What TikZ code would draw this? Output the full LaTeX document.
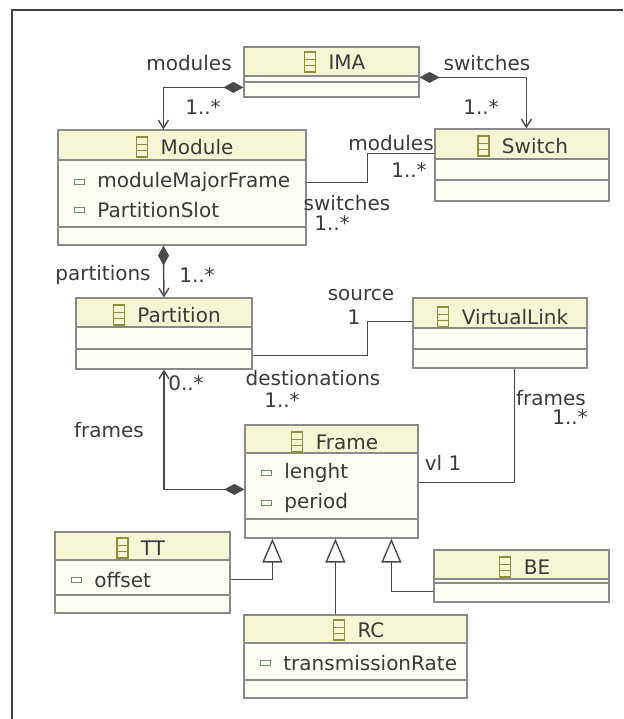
\documentclass[tikz,border=0pt]{standalone}
\usepackage{fontspec}
\setmainfont{DejaVu Sans}
\usetikzlibrary{arrows.meta, positioning, fit, calc, shadows}

\definecolor{boxline}{HTML}{8A8A8A}
\definecolor{headfill}{HTML}{F6F6D4}
\definecolor{bodyfill}{HTML}{FDFDF4}
\definecolor{iconline}{HTML}{8E8E40}
\definecolor{attrline}{HTML}{6F8F5F}
\definecolor{wire}{HTML}{4A4A4A}
\definecolor{txt}{HTML}{3A3A3A}

\tikzset{
  classbox/.style 2 args={draw=boxline, fill=bodyfill, line width=0.6pt, inner sep=0pt,
    drop shadow={shadow xshift=0.7pt, shadow yshift=-0.7pt, fill=black!30, opacity=0.6},
    path picture={
      \fill[headfill] (path picture bounding box.north west) rectangle ([yshift=-#1*0.5pt]path picture bounding box.north east);
      \draw[boxline, line width=0.6pt] ([yshift=-#1*0.5pt]path picture bounding box.north west) -- ([yshift=-#1*0.5pt]path picture bounding box.north east);
      \draw[boxline, line width=0.6pt] ([yshift=-#2*0.5pt]path picture bounding box.north west) -- ([yshift=-#2*0.5pt]path picture bounding box.north east);
    }},
  classicon/.style={draw=iconline, fill=headfill, line width=0.6pt, minimum width=5.5pt, minimum height=10pt, inner sep=0pt,
    path picture={
      \draw[iconline, line width=0.5pt] ($(path picture bounding box.north west)!0.35!(path picture bounding box.south west)$) -- ($(path picture bounding box.north east)!0.35!(path picture bounding box.south east)$);
      \draw[iconline, line width=0.5pt] ($(path picture bounding box.north west)!0.65!(path picture bounding box.south west)$) -- ($(path picture bounding box.north east)!0.65!(path picture bounding box.south east)$);
    }},
  attricon/.style={draw=attrline, fill=white, line width=0.6pt, minimum width=5pt, minimum height=2.8pt, inner sep=0pt},
  cname/.style={font=\fontsize{10}{12}\selectfont, text=txt, inner sep=0pt},
  attr/.style={font=\fontsize{10}{12}\selectfont, text=txt, inner sep=0pt, anchor=west},
  lbl/.style={font=\fontsize{10}{12}\selectfont, text=txt, inner sep=0pt},
  assoc/.style={draw=wire, line width=0.7pt},
  comp/.style={assoc, {Diamond[length=10pt, width=5.5pt]}-{Straight Barb[length=4pt, width=5pt]}},
  navig/.style={assoc, -{Straight Barb[length=4pt, width=5pt]}},
  inherit/.style={assoc, -{Triangle[open, length=12pt, width=10pt, fill=white]}}
}

\begin{document}
\begin{tikzpicture}[x=0.5pt, y=-0.5pt]
    \useasboundingbox (0,0) rectangle (623,719);
    % Frame border
    \draw[line width=1pt, black!75] (12,719) -- (12,10) -- (623,10);

    % Classes
    \node[classbox={29}{35}, fit={(244,47) (419,97)}] (ima) {};
    \node[classbox={30}{97}, fit={(58,130) (306,245)}] (module) {};
    \node[classbox={30}{51}, fit={(435,129) (609,201)}] (switch) {};
    \node[classbox={29}{51}, fit={(76,298) (252,369)}] (partition) {};
    \node[classbox={30}{51}, fit={(413,298) (587,368)}] (vl) {};
    \node[classbox={28}{94}, fit={(245,425) (418,538)}] (frame) {};
    \node[classbox={28}{63}, fit={(55,532) (230,613)}] (tt) {};
    \node[classbox={29}{33}, fit={(434,550) (609,602)}] (be) {};
    \node[classbox={28}{65}, fit={(244,615) (467,698)}] (rc) {};

    % Class names
    \node[cname] (imaname) at (347,62) {IMA};
    \node[cname] (modulename) at (197,147) {Module};
    \node[cname] (switchname) at (535,146) {Switch};
    \node[cname] (partitionname) at (179,315) {Partition};
    \node[cname] (vlname) at (515,317) {VirtualLink};
    \node[cname] (framename) at (347,442) {Frame};
    \node[cname] (ttname) at (153,548) {TT};
    \node[cname] (bename) at (537,567) {BE};
    \node[cname] (rcname) at (371,630) {RC};
    \node[classicon, left=6pt of imaname] (imaicon) {};
    \node[classicon, left=6pt of modulename] (moduleicon) {};
    \node[classicon, left=6pt of switchname] (switchicon) {};
    \node[classicon, left=6pt of partitionname] (partitionicon) {};
    \node[classicon, left=6pt of vlname] (vlicon) {};
    \node[classicon, left=6pt of framename] (frameicon) {};
    \node[classicon, left=6pt of ttname] (tticon) {};
    \node[classicon, left=6pt of bename] (beicon) {};
    \node[classicon, left=6pt of rcname] (rcicon) {};

    % Attributes
    \node[attr] (majorframe) at (97,182) {moduleMajorFrame};
    \node[attr] (partslot) at (97,210) {PartitionSlot};
    \node[attr] (lenght) at (284,473) {lenght};
    \node[attr] (period) at (284,503) {period};
    \node[attr] (offset) at (94,580) {offset};
    \node[attr] (rate) at (283,663) {transmissionRate};
    \node[attricon, left=6pt of majorframe] (majorframeicon) {};
    \node[attricon, left=6pt of partslot] (partsloticon) {};
    \node[attricon, left=6pt of lenght] (lenghticon) {};
    \node[attricon, left=6pt of period] (periodicon) {};
    \node[attricon, left=6pt of offset] (offseticon) {};
    \node[attricon, left=6pt of rate] (rateicon) {};

    % Associations
    \draw[comp] ($(ima.north west)+(0,41)$) -| ($(module.north west)+(106,0)$);
    \draw[comp] ($(ima.north east)+(0,31)$) -| ($(switch.north west)+(92,0)$);
    \draw[assoc] ($(module.north east)+(0,53)$) -- ++(61,0) |- ($(switch.north west)+(0,25)$);
    \draw[comp] ($(module.south west)+(106,0)$) -- (partition.north);
    \draw[assoc] ($(partition.north east)+(0,58)$) -- ++(115,0) |- ($(vl.north west)+(0,24)$);
    \draw[comp] ($(frame.north west)+(0,65)$) -| (partition.south);
    \draw[assoc] ($(vl.south west)+(102,0)$) |- ($(frame.north east)+(0,58)$);

    % Generalizations
    \draw[inherit] ($(tt.north east)+(0,48)$) -| ($(frame.south west)+(28,0)$);
    \draw[inherit] ($(rc.north west)+(92,0)$) -- ($(frame.south west)+(91,0)$);
    \draw[inherit] ($(be.north west)+(0,42)$) -| ($(frame.south west)+(147,0)$);

    % Role names and multiplicities
    \node[lbl] (lmodules) at (189,63) {modules};
    \node[lbl] (lswitches) at (487,63) {switches};
    \node[lbl] (lmulmodules) at (203,107) {1..*};
    \node[lbl] (lmulswitches) at (481,107) {1..*};
    \node[lbl] (lmodules2) at (391,143) {modules};
    \node[lbl] (lmulmodules2) at (409,170) {1..*};
    \node[lbl] (lswitches2) at (347,203) {switches};
    \node[lbl] (lmulswitches2) at (332,223) {1..*};
    \node[lbl] (lpartitions) at (103,275) {partitions};
    \node[lbl] (lmulpartitions) at (197,275) {1..*};
    \node[lbl] (lsource) at (361,295) {source};
    \node[lbl] (lmulsource) at (354,317) {1};
    \node[lbl] (ldest) at (313,378) {destionations};
    \node[lbl] (lmuldest) at (282,400) {1..*};
    \node[lbl] (lmulframes) at (186,383) {0..*};
    \node[lbl] (lframes) at (109,430) {frames};
    \node[lbl] (lframes2) at (551,398) {frames};
    \node[lbl] (lmulframes2) at (570,417) {1..*};
    \node[lbl] (lvl) at (443,463) {vl 1};
\end{tikzpicture}
\end{document}
